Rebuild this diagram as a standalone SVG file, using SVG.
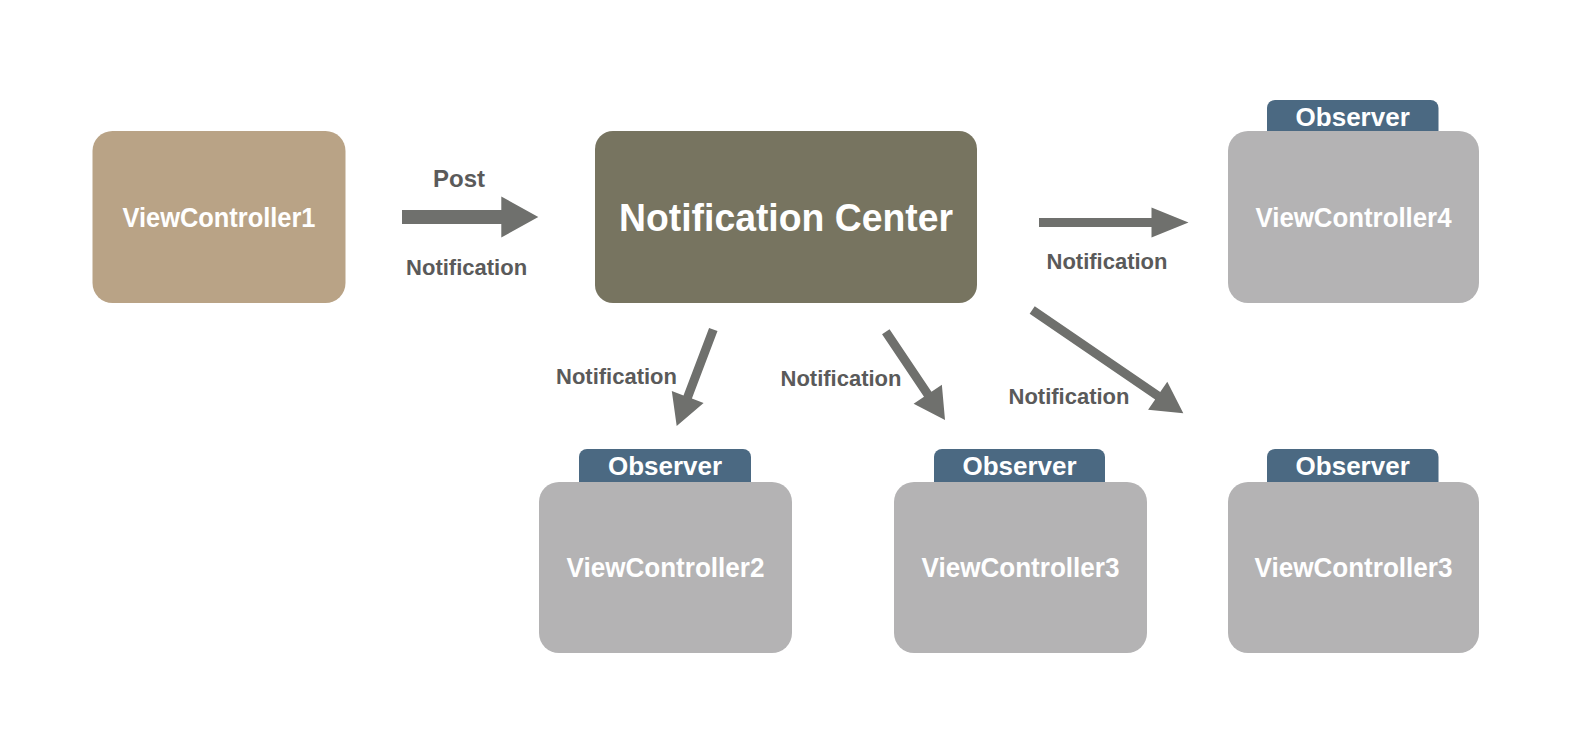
<svg xmlns="http://www.w3.org/2000/svg" width="1594" height="748" viewBox="0 0 1594 748">
  <style>
    .box-text { font-family: "Liberation Sans", Arial, sans-serif; font-weight: bold; fill: #ffffff; text-anchor: middle; }
    .vc { font-size: 27px; }
    .obs { font-size: 26px; }
    .label { font-family: "Liberation Sans", Arial, sans-serif; font-weight: bold; font-size: 22px; fill: #5a5a5a; text-anchor: middle; }
    .gray { fill: #b4b3b4; }
    .tab { fill: #4b6982; }
    .arrow { fill: #6f706d; }
  </style>
  <rect width="1594" height="748" fill="#ffffff"/>

  <g id="connectors">
    <polygon class="arrow" points="402,210 501.3,210 501.3,196.5 538.3,217 501.3,237.5 501.3,224 402,224"/>
    <polygon class="arrow" points="1039,218 1151.5,218 1151.5,207.5 1188.5,222.5 1151.5,237.5 1151.5,227 1039,227"/>
    <polygon class="arrow" points="709.09,327.90 683.49,395.40 671.80,390.97 676.7,426 703.60,403.03 691.91,398.60 717.51,331.10"/>
    <polygon class="arrow" points="882.06,334.21 924.00,396.76 913.62,403.72 945,420 941.86,384.78 931.48,391.74 889.54,329.19"/>
    <polygon class="arrow" points="1029.66,313.72 1155.16,399.52 1148.10,409.84 1183.3,413.3 1167.30,381.76 1160.24,392.08 1034.74,306.28"/>
    <text class="label" x="459" y="187" style="font-size:24px">Post</text>
    <text class="label" x="466.6" y="275">Notification</text>
    <text class="label" x="1107" y="268.5">Notification</text>
    <text class="label" x="616.5" y="384">Notification</text>
    <text class="label" x="841" y="386">Notification</text>
    <text class="label" x="1069" y="403.5">Notification</text>
  </g>

  <g id="vc1">
    <rect x="92.5" y="131" width="253" height="172" rx="20" fill="#b9a386"/>
    <text class="box-text vc" x="219" y="226.5" textLength="193" lengthAdjust="spacingAndGlyphs">ViewController1</text>
  </g>

  <g id="notification-center">
    <rect x="595" y="131" width="382" height="172" rx="18" fill="#777460"/>
    <text class="box-text" x="786" y="231" style="font-size:38px" textLength="334" lengthAdjust="spacingAndGlyphs">Notification Center</text>
  </g>

  <g id="vc4">
    <rect class="tab" x="1267" y="100" width="171.5" height="45" rx="8"/>
    <text class="box-text obs" x="1352.7" y="126">Observer</text>
    <rect class="gray" x="1228" y="131" width="251" height="172" rx="20"/>
    <text class="box-text vc" x="1353.5" y="226.5" textLength="196" lengthAdjust="spacingAndGlyphs">ViewController4</text>
  </g>

  <g id="vc2">
    <rect class="tab" x="579" y="449" width="172" height="45" rx="8"/>
    <text class="box-text obs" x="665" y="475">Observer</text>
    <rect class="gray" x="539" y="482" width="253" height="171" rx="20"/>
    <text class="box-text vc" x="665.5" y="577" textLength="198" lengthAdjust="spacingAndGlyphs">ViewController2</text>
  </g>

  <g id="vc3a">
    <rect class="tab" x="934" y="449" width="171" height="45" rx="8"/>
    <text class="box-text obs" x="1019.5" y="475">Observer</text>
    <rect class="gray" x="894" y="482" width="253" height="171" rx="20"/>
    <text class="box-text vc" x="1020.5" y="577" textLength="198" lengthAdjust="spacingAndGlyphs">ViewController3</text>
  </g>

  <g id="vc3b">
    <rect class="tab" x="1267" y="449" width="171.5" height="45" rx="8"/>
    <text class="box-text obs" x="1352.7" y="475">Observer</text>
    <rect class="gray" x="1228" y="482" width="251" height="171" rx="20"/>
    <text class="box-text vc" x="1353.5" y="577" textLength="198" lengthAdjust="spacingAndGlyphs">ViewController3</text>
  </g>
</svg>
